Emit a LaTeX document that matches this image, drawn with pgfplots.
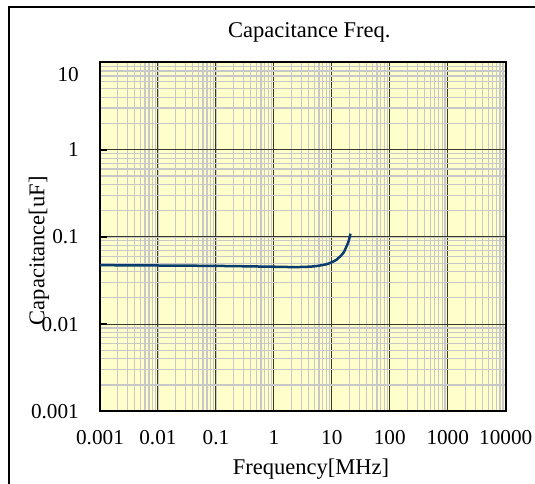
\documentclass[border=0pt]{standalone}
\usepackage{pgfplots}
\pgfplotsset{compat=1.18}
\usepackage{fontspec}
\setmainfont{Liberation Serif}

\definecolor{plotbg}{HTML}{FFFFCC}
\definecolor{mingrid}{HTML}{C8C8C8}
\definecolor{majgrid}{HTML}{3A3A2A}
\definecolor{curve}{HTML}{0B3C6E}

\begin{document}
\begin{tikzpicture}
    % page = 535 x 484 px, axis box at (100,62.5)-(505.7,411.3) px
    \useasboundingbox (-100bp,-72.7bp) rectangle (435bp,411.3bp);
    \draw[line width=2bp] (-90.7bp,-120bp) rectangle (600bp,404.5bp);
    \begin{axis}[
        scale only axis,
        width  = 405.7bp,
        height = 348.8bp,
        xmode = log,
        ymode = log,
        xmin = 0.001, xmax = 10000,
        ymin = 0.001, ymax = 10,
        xtick = {0.001,0.01,0.1,1,10,100,1000,10000},
        xticklabels = {0.001,0.01,0.1,1,10,100,1000,10000},
        ytick = {0.001,0.01,0.1,1,10},
        yticklabels = {0.001,0.01,0.1,1,{\raisebox{-11.5bp}[\height][0pt]{10}}},
        /pgf/number format/assume math mode=true,
        grid = both,
        major grid style = {majgrid, line width=1bp},
        minor grid style = {mingrid, line width=1.2bp},
        axis background/.style = {fill=plotbg},
        axis line style = {black, line width=2bp},
        tick align = inside,
        major tick length = 7bp,
        minor tick length = 0pt,
        xtick style = {draw=none},
        ytick style = {black, line width=2bp},
        ytick pos = left,
        xticklabel style = {font=\fontsize{21.3}{24}\selectfont, inner sep=0pt, anchor=base, yshift=-33bp},
        yticklabel style = {font=\fontsize{21.3}{24}\selectfont, inner sep=0pt, anchor=east, xshift=-21bp},
        title = {Capacitance Freq.},
        title style = {font=\fontsize{22.6}{26}\selectfont, at={(axis description cs:0.516,1.054)}, anchor=base},
        xlabel = {Frequency[MHz]},
        xlabel style = {font=\fontsize{22.6}{26}\selectfont, at={(axis description cs:0.520,-0.181)}, anchor=base},
        ylabel = {Capacitance[uF]},
        ylabel style = {font=\fontsize{22.6}{26}\selectfont, at={(axis description cs:-0.137,0.460)}, anchor=base},
    ]
        \addplot[curve, line width=2.5bp, smooth] coordinates {
            (0.001, 0.0474)
            (0.01,  0.0470)
            (0.1,   0.0465)
            (0.5,   0.0458)
            (1,     0.0455)
            (2,     0.0451)
            (3,     0.0452)
            (5,     0.0460)
            (8,     0.0485)
            (10,    0.0512)
            (12,    0.0546)
            (13.6,  0.0588)
            (16,    0.0663)
            (17.7,  0.0764)
            (19,    0.0850)
            (20,    0.0950)
            (21,    0.109)
        };
    \end{axis}
\end{tikzpicture}
\end{document}
